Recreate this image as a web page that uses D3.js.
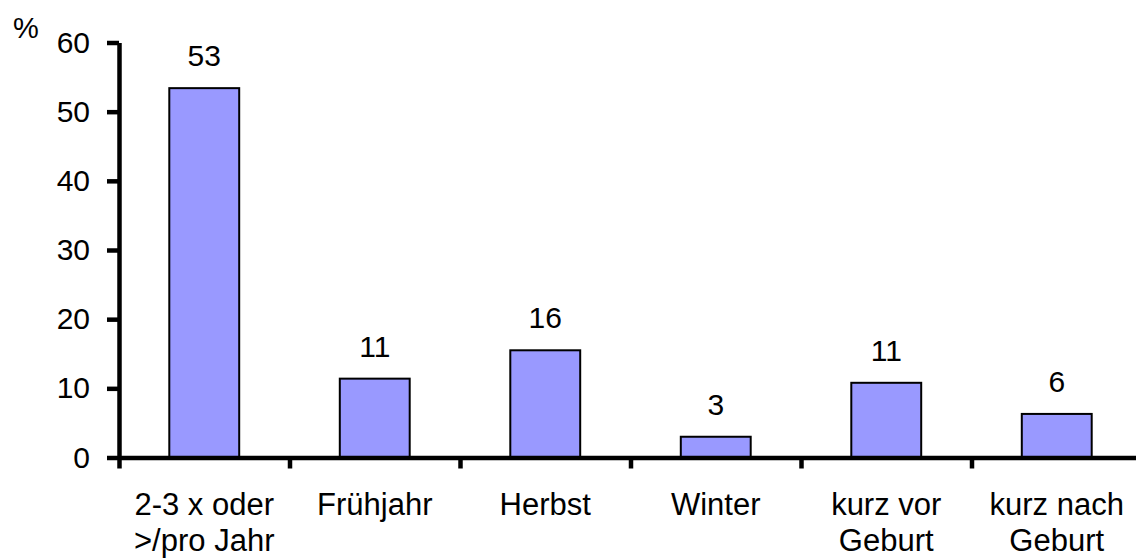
<!DOCTYPE html>
<html>
<head>
<meta charset="utf-8">
<script src="https://cdn.jsdelivr.net/npm/d3@7"></script>
<style>
  html, body { margin: 0; padding: 0; background: #fff; }
  svg { display: block; font-family: "Liberation Sans", Arial, sans-serif; }
</style>
</head>
<body>
<svg id="chart" width="1136" height="558"></svg>
<script>
// data
const categories = ["2-3 x oder\n>/pro Jahr", "Frühjahr", "Herbst", "Winter", "kurz vor\nGeburt", "kurz nach\nGeburt"]
const values = [53.4, 11.4, 15.5, 3.0, 10.8, 6.3]
const yTicks = [0, 10, 20, 30, 40, 50, 60]

const width = 1136
const height = 558
const margin = { top: 42.5, bottom: 100.5, left: 119 }
const step = 170.5

const svg = d3.select("#chart")

// scales
const x = d3.scaleBand()
  .domain(categories)
  .range([margin.left, margin.left + step * categories.length])
  .paddingInner(0.59)
  .paddingOuter(0.295)

// category edges for the x-axis tick marks
const edge = d3.scaleLinear()
  .domain([0, categories.length])
  .range([margin.left, margin.left + step * categories.length])

const y = d3.scaleLinear()
  .domain([0, 60])
  .range([height - margin.bottom, margin.top])

// bars
svg.append("g")
  .selectAll("rect")
  .data(values)
  .join("rect")
  .attr("x", (d, i) => x(categories[i]))
  .attr("y", d => y(d))
  .attr("width", x.bandwidth())
  .attr("height", d => y(0) - y(d))
  .attr("fill", "#9999ff")
  .attr("stroke", "#000")
  .attr("stroke-width", 2)

// value labels
svg.append("g")
  .selectAll("text")
  .data(values)
  .join("text")
  .attr("x", (d, i) => x(categories[i]) + x.bandwidth() / 2)
  .attr("y", d => y(d) - 22)
  .attr("text-anchor", "middle")
  .attr("font-size", 30)
  .attr("fill", "#000")
  .text(d => Math.round(d))

// y axis
const yAxis = svg.append("g")
  .attr("transform", `translate(${margin.left},0)`)
  .call(d3.axisLeft(y).tickValues(yTicks).tickSize(12).tickPadding(17).tickSizeOuter(0))
yAxis.select(".domain").attr("stroke-width", 4.5)
yAxis.selectAll(".tick line").attr("stroke-width", 4.5)
yAxis.selectAll(".tick text")
  .attr("font-size", 30)
  .attr("font-family", "Liberation Sans, Arial, sans-serif")
  .attr("fill", "#000")

// x axis
const xAxis = svg.append("g")
  .attr("transform", `translate(0,${y(0)})`)
  .call(d3.axisBottom(edge).tickValues(d3.range(categories.length + 1)).tickSize(11).tickSizeOuter(0).tickFormat(""))
xAxis.select(".domain").attr("stroke-width", 4.5)
xAxis.selectAll(".tick line").attr("stroke-width", 4.5)

// category labels
svg.append("g")
  .selectAll("text")
  .data(categories)
  .join("text")
  .attr("text-anchor", "middle")
  .attr("font-size", 31)
  .attr("fill", "#000")
  .each(function (d) {
    const cx = x(d) + x.bandwidth() / 2
    d.split("\n").forEach((line, k) => {
      d3.select(this).append("tspan")
        .attr("x", cx)
        .attr("y", 515 + k * 36)
        .text(line)
    })
  })

// unit label
svg.append("text")
  .attr("x", 26)
  .attr("y", 38)
  .attr("text-anchor", "middle")
  .attr("font-size", 29)
  .attr("fill", "#000")
  .text("%")
</script>
</body>
</html>
